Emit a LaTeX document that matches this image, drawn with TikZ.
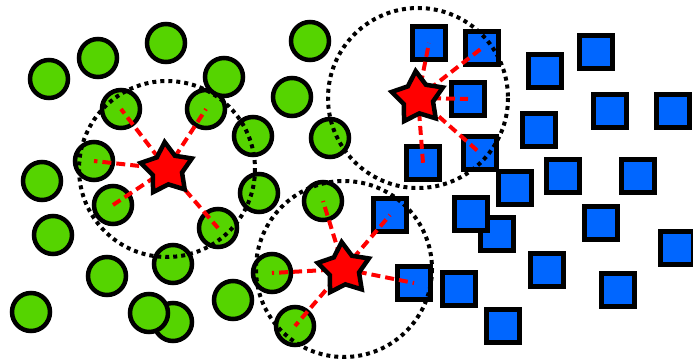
\documentclass[tikz,border=0pt]{standalone}
\usetikzlibrary{shapes.geometric}
\definecolor{cgreen}{HTML}{55D400}
\definecolor{cblue}{HTML}{0066FF}
\begin{document}
\begin{tikzpicture}[x=1pt,y=-1pt,
 ptc/.style={circle,draw=black,line width=4.5pt,fill=cgreen,minimum size=38pt,inner sep=0pt},
 pts/.style={rectangle,draw=black,line width=4.5pt,fill=cblue,minimum size=33pt,inner sep=0pt},
 qstar/.style={star,star points=5,star point ratio=1.75,draw=black,line width=4.5pt,fill=red,minimum size=54pt,inner sep=0pt,rotate=5},
 link/.style={red,line width=4pt,dash pattern=on 9pt off 5pt},
 zone/.style={black,line width=4pt,dash pattern=on 4pt off 4pt}]
\useasboundingbox (0,0) rectangle (693,363);
% green circles
\node[ptc] (c1) at (49,79) {};
\node[ptc] (c2) at (98,58) {};
\node[ptc] (c3) at (166,43) {};
\node[ptc] (c4) at (310,41) {};
\node[ptc] (c7) at (206,109) {};
\node[ptc] (c5) at (224,77) {};
\node[ptc] (c6) at (121,109) {};
\node[ptc] (c8) at (292,97) {};
\node[ptc] (c9) at (253,136) {};
\node[ptc] (c10) at (330,138) {};
\node[ptc] (c11) at (94,161) {};
\node[ptc] (c12) at (42,181) {};
\node[ptc] (c13) at (259,193) {};
\node[ptc] (c14) at (113,205) {};
\node[ptc] (c15) at (323,201) {};
\node[ptc] (c16) at (53,235) {};
\node[ptc] (c17) at (218,228) {};
\node[ptc] (c18) at (173,264) {};
\node[ptc] (c19) at (107,276) {};
\node[ptc] (c20) at (272,273) {};
\node[ptc] (c21) at (31,312) {};
\node[ptc] (c23) at (173,322) {};
\node[ptc] (c22) at (149,313) {};
\node[ptc] (c24) at (233,300) {};
\node[ptc] (c25) at (295,326) {};
% blue squares
\node[pts] (q1) at (429,43) {};
\node[pts] (q2) at (482,48) {};
\node[pts] (q3) at (545,71) {};
\node[pts] (q4) at (596,52) {};
\node[pts] (q5) at (468,99) {};
\node[pts] (q6) at (539,130) {};
\node[pts] (q7) at (610,111) {};
\node[pts] (q8) at (673,111) {};
\node[pts] (q9) at (515,188) {};
\node[pts] (q10) at (480,153) {};
\node[pts] (q11) at (423,163) {};
\node[pts] (q12) at (563,176) {};
\node[pts] (q13) at (638,176) {};
\node[pts] (q14) at (390,215) {};
\node[pts] (q15) at (497,234) {};
\node[pts] (q16) at (471,214) {};
\node[pts] (q17) at (601,223) {};
\node[pts] (q18) at (677,248) {};
\node[pts] (q19) at (547,270) {};
\node[pts] (q20) at (414,283) {};
\node[pts] (q21) at (459,289) {};
\node[pts] (q22) at (618,290) {};
\node[pts] (q23) at (503,326) {};
% star positions
\coordinate (s1c) at (167,169);
\coordinate (s2c) at (344,269);
\coordinate (s3c) at (418,98);
% dotted neighbourhoods
\draw[zone] (s1c) circle[radius=88];
\draw[zone] (s2c) circle[radius=88];
\draw[zone] (s3c) circle[radius=90];
% links
\draw[link] (s1c) -- (c6.center);
\draw[link] (s1c) -- (c7.center);
\draw[link] (s1c) -- (c11.center);
\draw[link] (s1c) -- (c14.center);
\draw[link] (s1c) -- (c17.center);
\draw[link] (s2c) -- (c15.center);
\draw[link] (s2c) -- (c20.center);
\draw[link] (s2c) -- (c25.center);
\draw[link] (s2c) -- (q14.center);
\draw[link] (s2c) -- (q20.center);
\draw[link] (s3c) -- (q1.center);
\draw[link] (s3c) -- (q2.center);
\draw[link] (s3c) -- (q5.center);
\draw[link] (s3c) -- (q10.center);
\draw[link] (s3c) -- (q11.center);
% stars
\node[qstar] (s1) at (s1c) {};
\node[qstar] (s2) at (s2c) {};
\node[qstar] (s3) at (s3c) {};
\end{tikzpicture}
\end{document}
